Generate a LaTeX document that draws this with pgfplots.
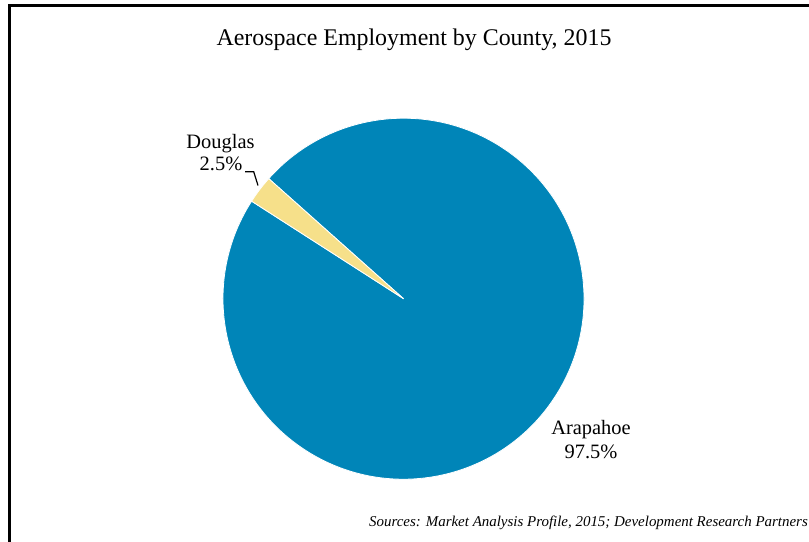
\documentclass[border=0pt]{standalone}
\usepackage{pgfplots}
\pgfplotsset{compat=1.18}
\usepackage{pgfplotstable}
\usepackage{fontspec}
\setmainfont{Liberation Serif}
\definecolor{arapahoe}{HTML}{0085B8}
\definecolor{douglas}{HTML}{F6E08A}
\pgfplotstableread{
label value
Douglas 2.5
Arapahoe 97.5
}\piedata
\begin{document}
\begin{tikzpicture}
\pgfplotstablegetelem{0}{value}\of\piedata \let\vA\pgfplotsretval
\pgfplotstablegetelem{1}{value}\of\piedata \let\vB\pgfplotsretval
\pgfmathsetmacro\aStart{138.3}
\pgfmathsetmacro\aMid{\aStart+3.6*\vA}
\pgfmathsetmacro\aEnd{\aMid+3.6*\vB}
\begin{axis}[
  width=809bp, height=542bp, scale only axis,
  xmin=0, xmax=809, ymin=0, ymax=542,
  hide axis, clip=false,
]
\fill[arapahoe, draw=white, line width=0.8pt] (axis cs:403.5,243.3) -- ++(\aMid:180.5bp) arc[start angle=\aMid, end angle=\aEnd, radius=180.5bp] -- cycle;
\fill[douglas, draw=white, line width=0.8pt] (axis cs:403.5,243.3) -- ++(\aStart:180.5bp) arc[start angle=\aStart, end angle=\aMid, radius=180.5bp] -- cycle;
\draw[line width=1.2pt] (axis cs:245,370.3) -- (axis cs:253.7,370.3) -- (axis cs:258,356.5);
\node[anchor=base, font=\fontsize{24}{28}\selectfont] at (axis cs:414,496) {Aerospace Employment by County, 2015};
\node[anchor=base, font=\fontsize{20.5}{24}\selectfont] at (axis cs:220.5,393.7) {Douglas};
\node[anchor=base, font=\fontsize{20.5}{24}\selectfont] at (axis cs:221,371.3) {2.5\%};
\node[anchor=base, font=\fontsize{20.5}{24}\selectfont] at (axis cs:591,107.7) {Arapahoe};
\node[anchor=base, font=\fontsize{20.5}{24}\selectfont] at (axis cs:591,83.7) {97.5\%};
\node[anchor=base east, font=\itshape\fontsize{15}{18}\selectfont, inner xsep=0pt] at (axis cs:808,15.3) {Sources: Market Analysis Profile, 2015; Development Research Partners};
\draw[line width=2.6pt] (axis cs:850,536.7) -- (axis cs:9.5,536.7) -- (axis cs:9.5,-30);
\end{axis}
\pgfresetboundingbox
\useasboundingbox (0,0) rectangle (809bp,542bp);
\end{tikzpicture}
\end{document}
